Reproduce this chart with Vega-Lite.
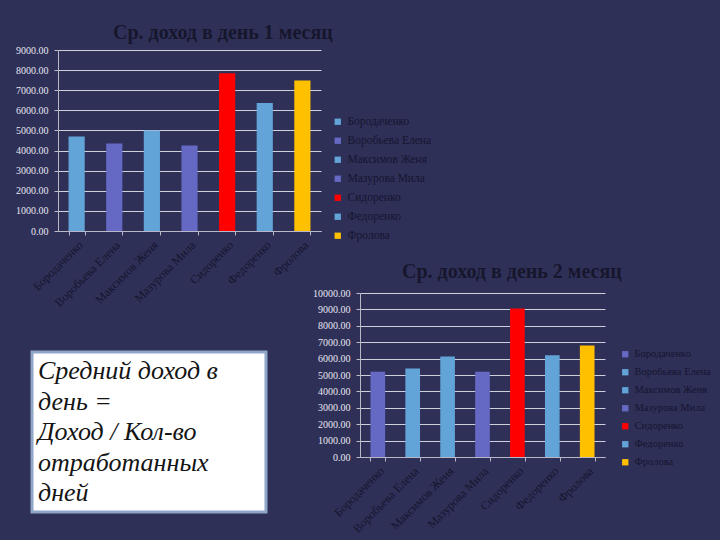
{
  "$schema": "https://vega.github.io/schema/vega-lite/v6.json",
  "background": "#2f3058",
  "padding": {"left": 15, "top": 23, "right": 10, "bottom": 10},
  "config": {
    "view": {"stroke": null},
    "font": "Liberation Serif",
    "axis": {"labelFont": "Liberation Serif", "domainColor": "#b8b8c8", "tickColor": "#b8b8c8", "gridColor": "#d0d0dc", "gridWidth": 1},
    "legend": {"labelFont": "Liberation Serif", "labelFontSize": 11.5, "labelColor": "#151530", "symbolType": "square", "symbolSize": 40, "symbolStrokeWidth": 0, "rowPadding": 6, "labelLimit": 200},
    "title": {"font": "Liberation Serif", "fontSize": 20, "fontWeight": "bold", "color": "#16162c", "anchor": "start", "frame": "group"}
  },
  "datasets": {
    "m1": [
      {"name": "Бородаченко", "value": 4700},
      {"name": "Воробьева Елена", "value": 4350},
      {"name": "Максимов Женя", "value": 5000},
      {"name": "Мазурова Мила", "value": 4250},
      {"name": "Сидоренко", "value": 7850},
      {"name": "Федоренко", "value": 6370},
      {"name": "Фролова", "value": 7480}
    ],
    "m2": [
      {"name": "Бородаченко", "value": 5200},
      {"name": "Воробьева Елена", "value": 5400},
      {"name": "Максимов Женя", "value": 6130},
      {"name": "Мазурова Мила", "value": 5200},
      {"name": "Сидоренко", "value": 9050},
      {"name": "Федоренко", "value": 6200},
      {"name": "Фролова", "value": 6800}
    ],
    "note": [
      {"t": "Средний доход в\nдень =\nДоход / Кол-во\nотработанных\nдней"}
    ]
  },
  "resolve": {"scale": {"color": "independent"}, "legend": {"color": "independent"}},
  "bounds": "flush",
  "spacing": 243,
  "vconcat": [
    {
      "bounds": "flush",
      "spacing": 0,
      "hconcat": [
        {
          "width": 26, "height": 10,
          "data": {"values": [{}]},
          "mark": {"type": "point", "opacity": 0}
        },
        {
          "width": 263, "height": 181,
          "title": {"text": "Ср. доход в день 1 месяц", "dx": 55, "offset": 2},
          "data": {"name": "m1"},
          "mark": {"type": "bar"},
          "encoding": {
            "x": {"field": "name", "type": "nominal", "sort": null, "title": null,
              "scale": {"paddingInner": 0.57, "paddingOuter": 0.28},
              "axis": {"labelAngle": -45, "labelFontSize": 12, "labelColor": "#15152e", "tickBand": "extent", "tickSize": 4, "labelPadding": 4}},
            "y": {"field": "value", "type": "quantitative", "title": null,
              "scale": {"domain": [0, 9000], "nice": false},
              "axis": {"values": [0, 1000, 2000, 3000, 4000, 5000, 6000, 7000, 8000, 9000], "format": ".2f", "labelFontSize": 10, "labelColor": "#e6e6f0", "tickSize": 4, "labelPadding": 6}},
            "color": {"field": "name", "type": "nominal", "sort": null, "title": null,
              "scale": {"range": ["#62a3d8", "#6569c4", "#62a3d8", "#6569c4", "#ff0000", "#62a3d8", "#ffc000"]},
              "legend": {"orient": "none", "legendX": 300, "legendY": 66}}
          }
        }
      ]
    },
    {
      "bounds": "flush",
      "spacing": 328,
      "hconcat": [
        {
          "bounds": "flush",
          "spacing": 0,
          "vconcat": [
            {
              "width": 234, "height": 59,
              "data": {"values": [{}]},
              "mark": {"type": "point", "opacity": 0}
            },
            {
              "width": 234, "height": 160,
              "view": {"fill": "#ffffff", "stroke": "#8ea6c8", "strokeWidth": 3},
              "data": {"name": "note"},
              "mark": {"type": "text", "lineBreak": "\n", "align": "left", "baseline": "top", "fontSize": 26, "fontStyle": "italic", "lineHeight": 30.5, "color": "#141414", "dx": 6, "dy": 6},
              "encoding": {
                "text": {"field": "t", "type": "nominal"},
                "x": {"datum": 0, "type": "quantitative", "scale": {"domain": [0, 1]}, "axis": null},
                "y": {"datum": 1, "type": "quantitative", "scale": {"domain": [0, 1]}, "axis": null}
              }
            }
          ]
        },
        {
          "width": 245, "height": 164,
          "title": {"text": "Ср. доход в день 2 месяц", "dx": 42, "offset": 6},
          "data": {"name": "m2"},
          "mark": {"type": "bar"},
          "encoding": {
            "x": {"field": "name", "type": "nominal", "sort": null, "title": null,
              "scale": {"paddingInner": 0.58, "paddingOuter": 0.3},
              "axis": {"labelAngle": -45, "labelFontSize": 12, "labelColor": "#15152e", "tickBand": "extent", "tickSize": 4, "labelPadding": 4}},
            "y": {"field": "value", "type": "quantitative", "title": null,
              "scale": {"domain": [0, 10000], "nice": false},
              "axis": {"values": [0, 1000, 2000, 3000, 4000, 5000, 6000, 7000, 8000, 9000, 10000], "format": ".2f", "labelFontSize": 10, "labelColor": "#e6e6f0", "tickSize": 4, "labelPadding": 6}},
            "color": {"field": "name", "type": "nominal", "sort": null, "title": null,
              "scale": {"range": ["#6569c4", "#62a3d8", "#62a3d8", "#6569c4", "#ff0000", "#62a3d8", "#ffc000"]},
              "legend": {"orient": "none", "legendX": 588, "legendY": 56, "labelFontSize": 10.5, "rowPadding": 7}}
          }
        }
      ]
    }
  ]
}
